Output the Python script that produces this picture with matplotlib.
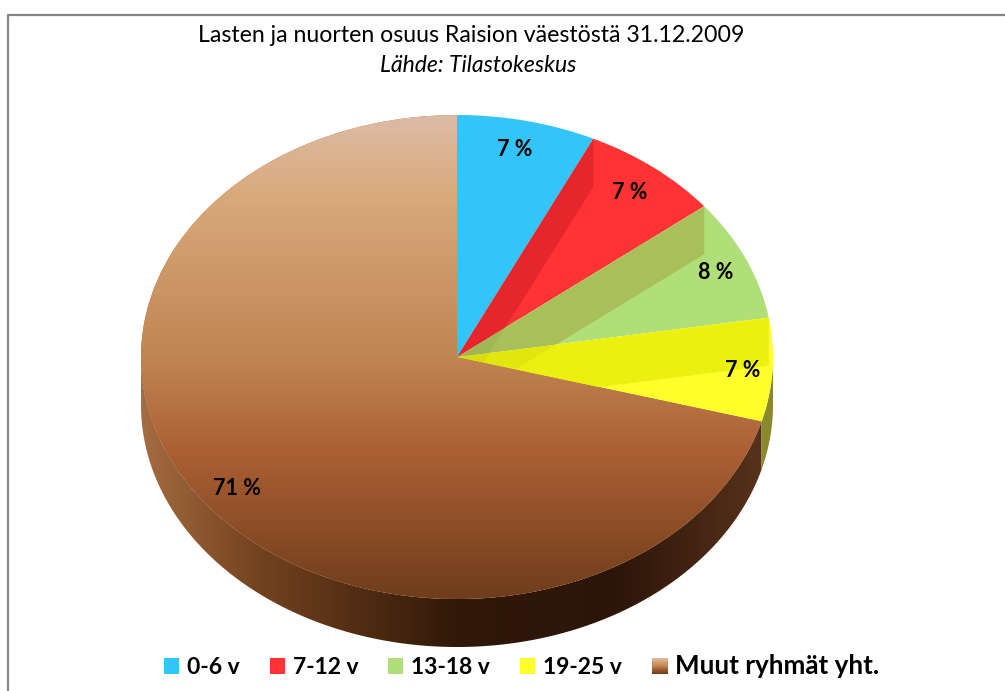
import matplotlib
matplotlib.use('Agg')
import matplotlib.pyplot as plt
import numpy as np
from matplotlib.colors import LinearSegmentedColormap
from matplotlib.lines import Line2D
from matplotlib.patches import Polygon

# === data ===
labels = ['0-6 v', '7-12 v', '13-18 v', '19-25 v', 'Muut ryhmät yht.']
values = [7.1, 7.2, 8.1, 6.9, 70.7]
colors = ['#33c4f9', '#ff3333', '#b0de78', '#ffff2c', '#b06a3c']
shadow_colors = [None, '#e6262d', '#a8bf5a', '#ecf010', None]

title = 'Lasten ja nuorten osuus Raision väestöstä 31.12.2009'
subtitle = 'Lähde: Tilastokeskus'

W, H = 1005, 691
CX, CY = 457, 357    # pie centre, pixels from top left
RX, RY = 316, 242
DEPTH = 48 / RY

plt.rcParams['font.family'] = ['Lato', 'DejaVu Sans']

fig = plt.figure(figsize=(W / 100, H / 100), dpi=100)
ax = fig.add_axes([0, 0, 1, 1])


def px(x, y):
    # pixel position -> data position, one data unit is the pie radius
    return (x - CX) / RX, (CY - y) / RY


def rim(angle):
    # angle in degrees clockwise from the top
    t = np.radians(90 - np.asarray(angle, dtype=float))
    return np.cos(t), np.sin(t)


wedges, _ = ax.pie(values, colors=colors, startangle=90, counterclock=False,
                   wedgeprops={'linewidth': 0, 'zorder': 3})
ax.set_aspect('auto')
xlim = (px(0, 0)[0], px(W, 0)[0])
ylim = (px(0, H)[1], px(0, 0)[1])

edges = np.cumsum(values) / np.sum(values) * 360


def wall_polygon(a0, a1):
    xs, ys = rim(np.linspace(a0, a1, 200))
    pts = np.r_[np.c_[xs, ys], np.c_[xs[::-1], ys[::-1] - DEPTH]]
    return Polygon(pts, closed=True, transform=ax.transData)


# === side wall ===
wall_cmap = LinearSegmentedColormap.from_list('wall', [
    (0.0, '#a46c42'), (0.18, '#74431f'), (0.5, '#311808'),
    (0.75, '#2c1509'), (0.97, '#55301a'), (1.0, '#55301a')])
wall_img = ax.imshow(np.linspace(0, 1, 512).reshape(1, -1), cmap=wall_cmap, aspect='auto',
                     extent=(-1, 1, -1 - DEPTH, 1), zorder=1)
wall_img.set_clip_path(wall_polygon(edges[3], 270))

xs, ys = rim(np.linspace(90, edges[3], 60))
yellow_wall = np.r_[np.c_[xs, ys], np.c_[xs[::-1], ys[::-1] - DEPTH]]
ax.add_patch(Polygon(yellow_wall, closed=True, facecolor='#8a8a2c', edgecolor='none', zorder=1))

# === top of the big slice has a vertical gradient ===
top_cmap = LinearSegmentedColormap.from_list('top', [
    (0.0, '#dcbba6'), (0.16, '#d9aa7c'), (0.50, '#c08552'),
    (0.70, '#ab5f33'), (1.0, '#6f3d1c')])
top_img = ax.imshow(np.linspace(0, 1, 512).reshape(-1, 1), cmap=top_cmap, aspect='auto',
                    extent=(-1, 1, -1, 1), zorder=4)
top_img.set_clip_path(wedges[4])

# === fake shadows from the raised edges ===
for i in range(1, 4):
    for j in range(i, 4):
        ex, ey = rim(edges[i - 1])
        pts = [(0, 0), (ex, ey), (ex, ey - DEPTH), (0, -DEPTH)]
        if j == i:
            shade = Polygon(pts, closed=True, facecolor=shadow_colors[j], edgecolor='none', zorder=5)
        else:
            shade = Polygon(pts, closed=True, facecolor='black', alpha=0.04, edgecolor='none', zorder=6)
        ax.add_patch(shade)
        shade.set_clip_path(wedges[j])

# === percent labels ===
label_pos = [(515, 150), (630, 193), (716, 273), (743, 371), (237, 489)]
for v, pos in zip(values, label_pos):
    x, y = px(*pos)
    ax.text(x, y, f'{round(v)} %', ha='center', va='center', fontsize=15.5,
            fontweight='bold', color='black', zorder=8)

# === titles ===
tx, ty = px(471, 36)
ax.text(tx, ty, title, ha='center', va='center', fontsize=16.7, color='black')
tx, ty = px(478, 66)
ax.text(tx, ty, subtitle, ha='center', va='center', fontsize=16.6, style='italic', color='black')

# === legend ===
handles = [plt.Rectangle((0, 0), 1, 1, facecolor=c, edgecolor='none') for c in colors]
lx, ly = px(521.5, 666)
leg = ax.legend(handles, labels, ncol=5, loc='center', bbox_to_anchor=(lx, ly),
                bbox_transform=ax.transData, frameon=False,
                prop={'weight': 'bold', 'size': 16.5}, handlelength=0.66, handleheight=0.66,
                handletextpad=0.35, columnspacing=1.3, borderpad=0, borderaxespad=0)
leg.get_texts()[4].set_fontsize(18.7)

ax.set_xlim(*xlim)
ax.set_ylim(*ylim)
ax.axis('off')

# gradient swatch for the last legend entry
fig.canvas.draw()
box = leg.legend_handles[4].get_window_extent().transformed(ax.transData.inverted())
ax.imshow(np.linspace(0, 1, 32).reshape(-1, 1), cmap=top_cmap, aspect='auto',
          extent=(box.x0, box.x1, box.y0, box.y1), zorder=10)
ax.set_xlim(*xlim)
ax.set_ylim(*ylim)

# === chart frame, only left and top show ===
frame_x = [8 / W, 8 / W, 1]
frame_y = [0, 1 - 15 / H, 1 - 15 / H]
fig.add_artist(Line2D(frame_x, frame_y, transform=fig.transFigure, color='#868686', linewidth=1.6))

fig.savefig('out.png', dpi=100, facecolor='white')
